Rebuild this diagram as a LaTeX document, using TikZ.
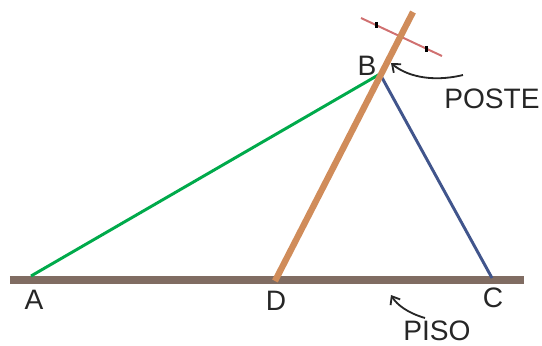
\documentclass[tikz,border=0pt]{standalone}
\usepackage{fontspec}
\setmainfont{Liberation Sans}
\usetikzlibrary{arrows.meta,calc}
\definecolor{pisocol}{RGB}{128,108,98}
\definecolor{postecol}{RGB}{208,140,90}
\definecolor{crosscol}{RGB}{208,112,112}
\definecolor{greencol}{RGB}{0,170,75}
\definecolor{bluecol}{RGB}{65,85,140}
\tikzset{
  lbl/.style={font=\fontsize{20}{24}\selectfont, text=black!85},
  pointer/.style={black!85, line width=1.3pt, -{Straight Barb[length=5pt,width=8pt]}}
}
\begin{document}
\begin{tikzpicture}[x=0.025cm, y=-0.025cm]
            \useasboundingbox (0,0) rectangle (542,345);
            % Points of the figure
            \coordinate (A) at (31,276);
            \coordinate (B) at (380,74);
            \coordinate (C) at (492,278);
            \coordinate (D) at (275,281);
            \coordinate (top) at (413,12);
            \coordinate (fl) at (10,280);
            \coordinate (fr) at (524,280);
            \coordinate (cl) at (361,18);
            \coordinate (cr) at (442,56);
            % Floor and lines
            \draw[pisocol, line width=5.5pt] (fl) -- (fr);
            \draw[greencol, line width=2.1pt] (A) -- (B);
            \draw[bluecol, line width=2.1pt] (B) -- (C);
            % Pole with crossbar
            \draw[crosscol, line width=1.4pt] (cl) -- (cr);
            \draw[black, line width=1.8pt] ($(cl)!0.19!(cr)+(0,-3)$) -- ++(0,6);
            \draw[black, line width=1.8pt] ($(cl)!0.81!(cr)+(0,-3)$) -- ++(0,6);
            \draw[postecol, line width=4.5pt] (D) -- (top);
            % Labels
            \node[lbl] (labA) at (34,300) {A};
            \node[lbl] (labB) at (367,66) {B};
            \node[lbl] (labC) at (493,298) {C};
            \node[lbl] (labD) at (276,301) {D};
            \node[lbl] (poste) at (492,99) {POSTE};
            \node[lbl] (piso) at (437,331) {PISO};
            % Pointers
            \coordinate (ps) at (463,75);
            \coordinate (pt) at (391,63);
            \coordinate (fs) at (425,318);
            \coordinate (ft) at (391,295);
            \draw[pointer] (ps) .. controls (430,83) and (405,75) .. (pt);
            \draw[pointer] (fs) .. controls (408,313) and (397,305) .. (ft);
        \end{tikzpicture}
\end{document}
